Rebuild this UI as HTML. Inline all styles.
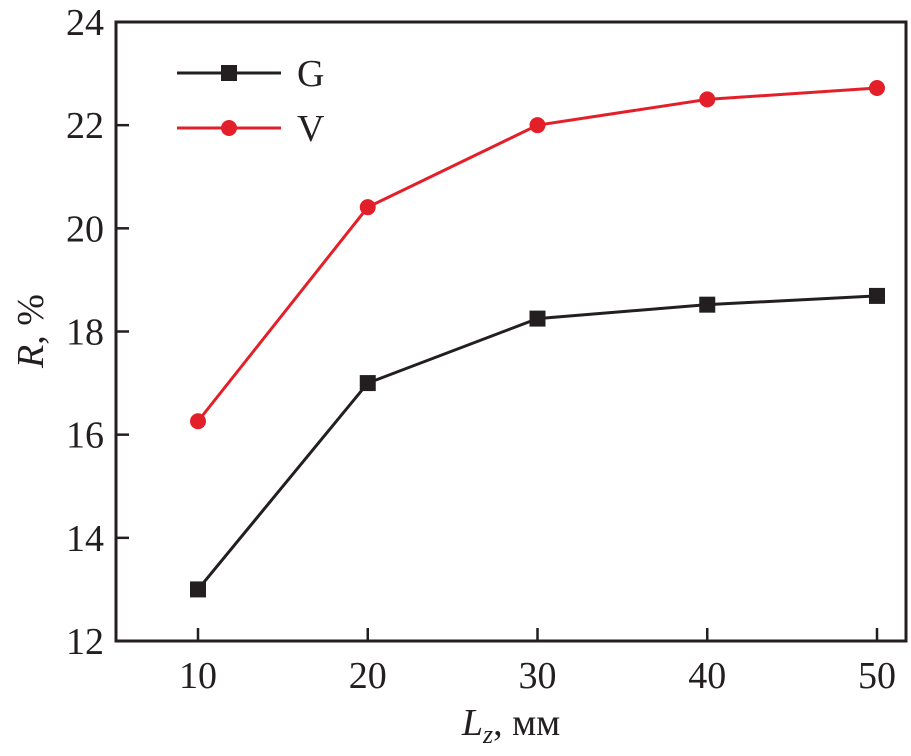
<!DOCTYPE html>
<html><head><meta charset="utf-8"><style>
body{margin:0;background:#fff;}
svg{display:block;font-family:"Liberation Serif",serif;}
</style></head><body>
<svg id="chart" width="911" height="756"></svg>
<script>
const categories=[10,20,30,40,50];
const seriesG=[13,17,18.25,18.52,18.69];
const seriesV=[16.26,20.41,22,22.5,22.72];
const yTicks=[12,14,16,18,20,22,24];
const xTicks=[10,20,30,40,50];
const L=116,R=906,T=22,B=641;
const xs=v=>198+(v-10)*(877-198)/40;
const ys=v=>B-(v-12)*(B-T)/12;
const svg=document.getElementById('chart');
const NS='http://www.w3.org/2000/svg';
function mk(t,a,p){const e=document.createElementNS(NS,t);for(const k in a)e.setAttribute(k,a[k]);(p||svg).appendChild(e);return e;}
const frame=mk('rect',{x:L,y:T,width:R-L,height:B-T,fill:'none',stroke:'#231f20','stroke-width':3});


yTicks.forEach(v=>{
 const y=ys(v);
 const tk=mk('line',{x1:L,x2:L+13,y1:y,y2:y,stroke:'#231f20','stroke-width':2.5});
 
 
 const t=mk('text',{x:L-12,y:y+13,'text-anchor':'end','font-size':38,fill:'#231f20'});
 t.textContent=v;
 
 
});
xTicks.forEach(v=>{
 const x=xs(v);
 const tk=mk('line',{x1:x,x2:x,y1:B,y2:B-13,stroke:'#231f20','stroke-width':2.5});
 
 
 const t=mk('text',{x:x,y:B+47,'text-anchor':'middle','font-size':38,fill:'#231f20'});
 t.textContent=v;
 
 
});
function series(vals,color,shape,name){
 const g=mk('g',{});
 
 
 mk('polyline',{points:vals.map((v,i)=>xs(categories[i])+','+ys(v)).join(' '),fill:'none',stroke:color,'stroke-width':3},g);
 vals.forEach((v,i)=>{
  const x=xs(categories[i]),y=ys(v);
  const m=shape==='sq'?mk('rect',{x:x-8,y:y-8,width:16,height:16,fill:color},g):mk('circle',{cx:x,cy:y,r:8,fill:color},g);
  
  
 });
}
series(seriesV,'#e3202a','c','series-v');
series(seriesG,'#231f20','sq','series-g');
function leg(y,color,shape,label,name){
 const g=mk('g',{});
 
 
 mk('line',{x1:177,x2:281,y1:y,y2:y,stroke:color,'stroke-width':3},g);
 if(shape==='sq')mk('rect',{x:221,y:y-8,width:16,height:16,fill:color},g);
 else mk('circle',{cx:229,cy:y,r:8,fill:color},g);
 const t=mk('text',{x:297,y:y+13,'font-size':38,fill:'#231f20'},g);
 t.textContent=label;
}
leg(73,'#231f20','sq','G','legend-g');
leg(128,'#e3202a','c','V','legend-v');
const xl=mk('text',{x:511,y:735,'text-anchor':'middle','font-size':38,fill:'#231f20'});
xl.innerHTML='<tspan font-style="italic">L</tspan><tspan font-style="italic" font-size="26" dy="8">z</tspan><tspan dy="-8">, мм</tspan>';


const yl=mk('text',{x:0,y:0,'text-anchor':'middle','font-size':38,fill:'#231f20',transform:'translate(43,331) rotate(-90)'});
yl.innerHTML='<tspan font-style="italic">R</tspan>, %';


</script>
</body></html>
